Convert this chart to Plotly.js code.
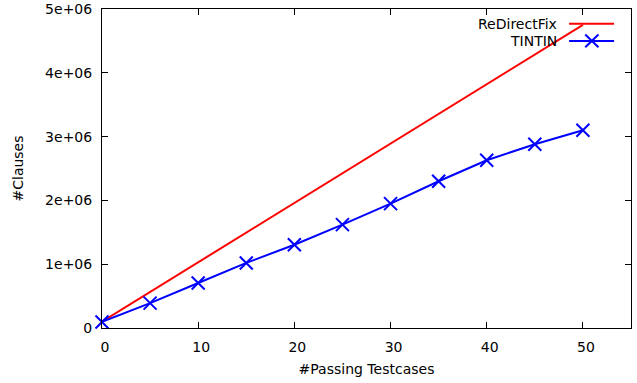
<!DOCTYPE html>
<html><head><meta charset="utf-8">
<script src="https://cdn.plot.ly/plotly-3.0.1.min.js"></script>
<style>html,body{margin:0;padding:0;background:#fff;}#chart{width:637px;height:383px;}</style>
</head><body><div id="chart"></div>
<script>
const redirectX = [0, 50];
const redirectY = [100000, 4750000];
const tintinX = [0, 5, 10, 15, 20, 25, 30, 35, 40, 45, 50];
const tintinY = [95000, 390000, 705000, 1020000, 1305000, 1620000, 1950000, 2300000, 2630000, 2880000, 3100000];
const seriesNames = ['ReDirectFix', 'TINTIN'];
const xTickVals = [0, 10, 20, 30, 40, 50];
const yTickVals = [0, 1000000, 2000000, 3000000, 4000000, 5000000];
const yTickText = ['0', '1e+06', '2e+06', '3e+06', '4e+06', '5e+06'];

const font = {family: 'DejaVu Sans', size: 14, color: '#000'};
const traces = [
  {x: redirectX, y: redirectY, name: seriesNames[0], mode: 'lines', type: 'scatter',
   line: {color: '#ff0000', width: 2}, cliponaxis: false},
  {x: tintinX, y: tintinY, name: seriesNames[1], mode: 'lines+markers', type: 'scatter',
   line: {color: '#0000ff', width: 2},
   marker: {symbol: 'x-thin', size: 13, color: '#0000ff', line: {color: '#0000ff', width: 2}},
   cliponaxis: false}
];
const ax = {showline: true, linecolor: '#000', linewidth: 1, mirror: 'ticks', ticks: 'inside',
  ticklen: 6, tickcolor: '#000', showgrid: false, zeroline: false, tickfont: font};
const legX0 = 0.883, legX1 = 0.968, legXm = 0.926, legTx = 0.864;
const legY = [0.954, 0.900];
const layout = {
  width: 637, height: 383, margin: {l: 102, r: 6, t: 9, b: 55},
  paper_bgcolor: '#fff', plot_bgcolor: '#fff', font: font, showlegend: false,
  xaxis: Object.assign({}, ax, {range: [0, 55], tickvals: xTickVals, ticklabelstandoff: 6,
    ticklabelshift: 3,
    title: {text: '#Passing Testcases', font: font, standoff: 10}}),
  yaxis: Object.assign({}, ax, {range: [0, 5000000], tickvals: yTickVals, ticktext: yTickText,
    ticklabelstandoff: 6, title: {text: '#Clauses', font: font, standoff: 18}}),
  annotations: seriesNames.map((n, i) => ({xref: 'paper', yref: 'paper', x: legTx, y: legY[i],
    text: n, showarrow: false, xanchor: 'right', yanchor: 'middle', font: font})),
  shapes: [
    {type: 'line', xref: 'paper', yref: 'paper', x0: legX0, x1: legX1, y0: legY[0], y1: legY[0], line: {color: '#ff0000', width: 2}},
    {type: 'line', xref: 'paper', yref: 'paper', x0: legX0, x1: legX1, y0: legY[1], y1: legY[1], line: {color: '#0000ff', width: 2}},
    {type: 'line', xref: 'paper', yref: 'paper', x0: legXm - 0.0125, x1: legXm + 0.0125, y0: legY[1] - 0.02, y1: legY[1] + 0.02, line: {color: '#0000ff', width: 2}},
    {type: 'line', xref: 'paper', yref: 'paper', x0: legXm - 0.0125, x1: legXm + 0.0125, y0: legY[1] + 0.02, y1: legY[1] - 0.02, line: {color: '#0000ff', width: 2}}
  ]
};
Plotly.newPlot('chart', traces, layout, {displayModeBar: false, staticPlot: true});
</script></body></html>
